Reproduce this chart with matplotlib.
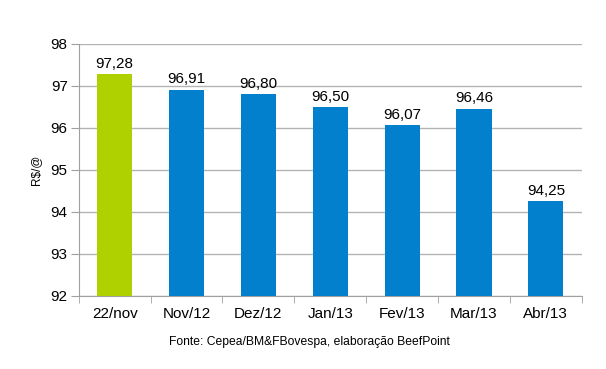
import matplotlib
matplotlib.use("Agg")
import matplotlib.pyplot as plt

categories = ["22/nov", "Nov/12", "Dez/12", "Jan/13", "Fev/13", "Mar/13", "Abr/13"]
values = [97.28, 96.91, 96.80, 96.50, 96.07, 96.46, 94.25]
bar_colors = ["#b0d100", "#0380cd", "#0380cd", "#0380cd", "#0380cd", "#0380cd", "#0380cd"]
yticks = [92, 93, 94, 95, 96, 97, 98]

plt.rcParams['font.family'] = ['Liberation Sans', 'DejaVu Sans']

fig = plt.figure(figsize=(6.06, 3.69), dpi=100)
ax = fig.add_axes([0.130, 0.198, 0.830, 0.683])

x = list(range(len(categories)))
ax.bar(x, [v - 92 for v in values], bottom=92, width=0.49, color=bar_colors, zorder=3)
for xi, v in zip(x, values):
    ax.text(xi, v + 0.08, f"{v:.2f}".replace(".", ","), ha="center", va="bottom",
            fontsize=11, color="#000000", zorder=4)

ax.set_ylim(92, 98)
ax.set_xlim(-0.5, len(categories) - 0.5)
ax.set_yticks(yticks)
ax.set_yticklabels([str(t) for t in yticks], fontsize=11)
ax.set_xticks(x)
ax.set_xticklabels(categories, fontsize=11)
ax.set_xticks([i - 0.5 for i in range(len(categories) + 1)], minor=True)
ax.tick_params(axis="x", which="major", length=0, pad=8)
ax.tick_params(axis="x", which="minor", length=5, color="#a0a0a0")
ax.tick_params(axis="y", length=6, color="#a0a0a0", pad=2)
ax.grid(axis="y", color="#b3b3b3", linewidth=1, zorder=0)
for s in ["top", "right"]:
    ax.spines[s].set_visible(False)
for s in ["left", "bottom"]:
    ax.spines[s].set_color("#a0a0a0")
ax.set_ylabel("R$/@", fontsize=8.5, labelpad=6)
fig.text(0.51, 0.073, "Fonte: Cepea/BM&FBovespa, elaboração BeefPoint", ha="center",
         va="center", fontsize=8.7)
fig.savefig("out.png", dpi=100)
